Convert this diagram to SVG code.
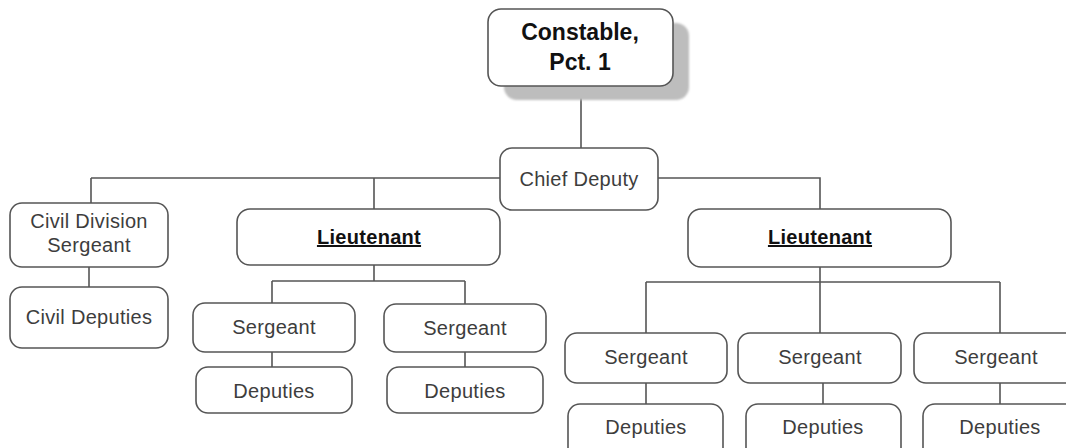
<svg xmlns="http://www.w3.org/2000/svg" width="1066" height="448" viewBox="0 0 1066 448">
  <style>
    .box { fill: #ffffff; stroke: #555555; stroke-width: 1.6; }
    .shadow { fill: #bdbdbd; }
    .wire { fill: none; stroke: #555555; stroke-width: 1.6; }
    .lbl { font-family: "Liberation Sans", Arial, sans-serif; font-size: 20px; fill: #3d3d3d; text-anchor: middle; letter-spacing: 0.3px; }
    .bold { font-weight: bold; fill: #111111; }
    .big { font-size: 23px; letter-spacing: 0; }
    .ul { text-decoration: underline; }
  </style>
  <defs>
    <filter id="soft" x="-10%" y="-10%" width="120%" height="120%">
      <feGaussianBlur stdDeviation="1"/>
    </filter>
  </defs>
  <rect width="1066" height="448" fill="#ffffff"/>

  <!-- connectors -->
  <g id="connectors">
    <path class="wire" d="M581 86 V148"/>
    <path class="wire" d="M91 178 H500 M658 178 H820 V209 M91 178 V203 M374 178 V209"/>
    <path class="wire" d="M89 267 V287"/>
    <path class="wire" d="M374 265 V281 M272 281 H465 M272 281 V303 M465 281 V304"/>
    <path class="wire" d="M272 352 V367 M465 352 V367"/>
    <path class="wire" d="M820 267 V282 M646 282 H1000 M646 282 V333 M820 282 V333 M1000 282 V333"/>
    <path class="wire" d="M646 383 V404 M823 383 V404 M1000 383 V404"/>
  </g>

  <g id="constable">
    <rect class="shadow" x="504" y="23" width="185" height="77" rx="13" filter="url(#soft)"/>
    <rect class="box" x="488" y="9" width="185" height="77" rx="13"/>
    <text class="lbl bold big" x="580" y="40">Constable,</text>
    <text class="lbl bold big" x="580" y="70">Pct. 1</text>
  </g>

  <g id="chief-deputy">
    <rect class="box" x="500" y="148" width="158" height="62" rx="12"/>
    <text class="lbl" x="579" y="186">Chief Deputy</text>
  </g>

  <g id="civil-sergeant">
    <rect class="box" x="10" y="203" width="158" height="64" rx="12"/>
    <text class="lbl" x="89" y="228">Civil Division</text>
    <text class="lbl" x="89" y="252">Sergeant</text>
  </g>

  <g id="civil-deputies">
    <rect class="box" x="10" y="287" width="158" height="61" rx="12"/>
    <text class="lbl" x="89" y="324">Civil Deputies</text>
  </g>

  <g id="lieutenant-left">
    <rect class="box" x="237" y="209" width="263" height="56" rx="13"/>
    <text class="lbl bold ul" x="369" y="244">Lieutenant</text>
  </g>

  <g id="sergeant-1">
    <rect class="box" x="193" y="303" width="162" height="49" rx="12"/>
    <text class="lbl" x="274" y="334">Sergeant</text>
  </g>
  <g id="deputies-1">
    <rect class="box" x="196" y="367" width="156" height="46" rx="12"/>
    <text class="lbl" x="274" y="398">Deputies</text>
  </g>

  <g id="sergeant-2">
    <rect class="box" x="384" y="304" width="162" height="48" rx="12"/>
    <text class="lbl" x="465" y="335">Sergeant</text>
  </g>
  <g id="deputies-2">
    <rect class="box" x="387" y="367" width="156" height="46" rx="12"/>
    <text class="lbl" x="465" y="398">Deputies</text>
  </g>

  <g id="lieutenant-right">
    <rect class="box" x="688" y="209" width="263" height="58" rx="13"/>
    <text class="lbl bold ul" x="820" y="244">Lieutenant</text>
  </g>

  <g id="sergeant-3">
    <rect class="box" x="565" y="333" width="162" height="50" rx="12"/>
    <text class="lbl" x="646" y="364">Sergeant</text>
  </g>
  <g id="deputies-3">
    <rect class="box" x="568" y="404" width="155" height="56" rx="12"/>
    <text class="lbl" x="646" y="434">Deputies</text>
  </g>

  <g id="sergeant-4">
    <rect class="box" x="738" y="333" width="163" height="50" rx="12"/>
    <text class="lbl" x="820" y="364">Sergeant</text>
  </g>
  <g id="deputies-4">
    <rect class="box" x="746" y="404" width="155" height="56" rx="12"/>
    <text class="lbl" x="823" y="434">Deputies</text>
  </g>

  <g id="sergeant-5">
    <rect class="box" x="914" y="333" width="170" height="50" rx="12"/>
    <text class="lbl" x="996" y="364">Sergeant</text>
  </g>
  <g id="deputies-5">
    <rect class="box" x="923" y="404" width="160" height="56" rx="12"/>
    <text class="lbl" x="1000" y="434">Deputies</text>
  </g>
</svg>
